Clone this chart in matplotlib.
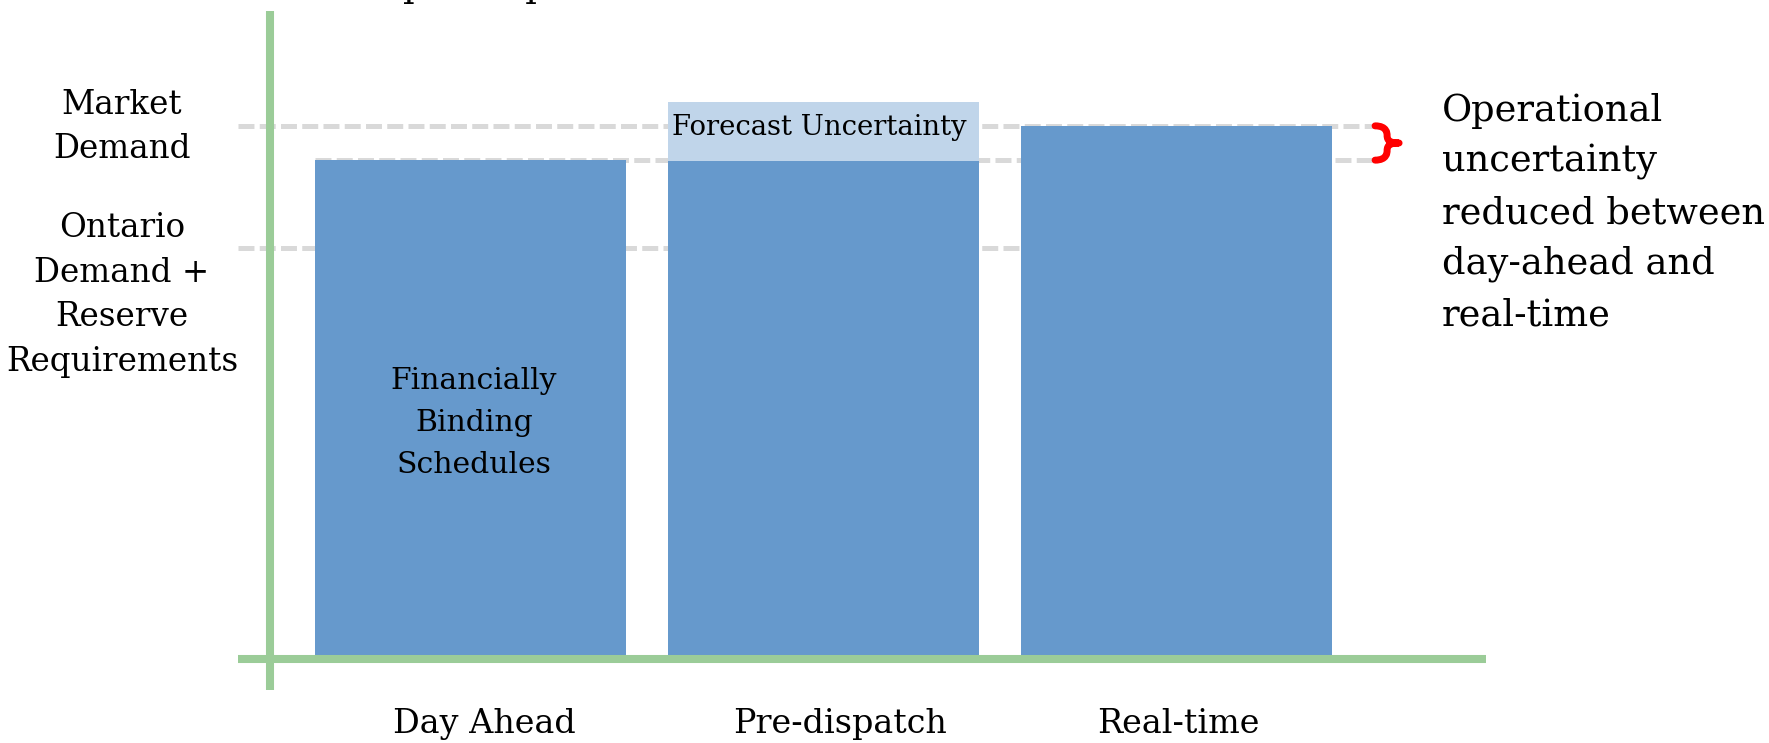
import matplotlib
matplotlib.use("Agg")
import matplotlib.pyplot as plt
import numpy as np
from matplotlib.path import Path
from matplotlib.patches import PathPatch

# ---- data (arbitrary demand units, axis spans 0-100) ----
stages = ["Day Ahead", "Pre-dispatch", "Real-time"]
scheduled = [75.7, 75.6, 80.9]
forecast_uncertainty = [0.0, 8.9, 0.0]
market_demand = 80.9
ontario_demand_reserve = 62.4
day_ahead_level = 75.7

level_labels = ["Market\nDemand", "Ontario\nDemand +\nReserve\nRequirements"]
bar_note = "Financially\nBinding\nSchedules"
uncertainty_note = "Forecast Uncertainty"
side_note = "Operational\nuncertainty\nreduced between\nday-ahead and\nreal-time"

# ---- style ----
BAR = "#6699CC"
BAR_LIGHT = "#C0D5EA"
AXIS_GREEN = "#9BCC98"
DASH_GREY = "#D9D9D9"
BRACE_RED = "#FF0000"
FONT = "DejaVu Serif"

plt.rcParams["font.family"] = FONT
plt.rcParams["lines.scale_dashes"] = False

W, H = 1769, 743
fig = plt.figure(figsize=(W / 100, H / 100), dpi=100)
ax = fig.add_axes([238 / W, (H - 659) / H, (1486 - 238) / W, 659 / H])

x = np.arange(len(stages))
width = 0.88
ax.set_xlim(-0.658, 2.875)
ax.set_ylim(0, 100)
ax.axis("off")


def px(xp, yp):
    """Pixel position (from top-left) to figure fraction."""
    return xp / W, 1 - yp / H


# reference levels (dashed)
dash = dict(color=DASH_GREY, lw=3.6, dashes=(11.5, 3.8), dash_capstyle="butt", zorder=1)
right_end = x[-1] + width / 2 + 0.115
ax.plot([-0.658, right_end], [market_demand] * 2, **dash)
ax.plot([x[0] - width / 2, right_end], [day_ahead_level] * 2, **dash)
ax.plot([-0.658, x[-1]], [ontario_demand_reserve] * 2, **dash)

# bars
ax.bar(x, scheduled, width=width, color=BAR, zorder=2)
unc = np.array(forecast_uncertainty)
mask = unc > 0
ax.bar(x[mask], unc[mask], bottom=np.array(scheduled)[mask], width=width,
       color=BAR_LIGHT, zorder=3)

# axes drawn as thick green lines crossing each other
ax.plot([-0.658, 2.875], [0, 0], color=AXIS_GREEN, lw=5.8, solid_capstyle="butt",
        zorder=5, clip_on=False)
ax.plot([-0.5676, -0.5676], [-4.7, 98.3], color=AXIS_GREEN, lw=5.8,
        solid_capstyle="butt", zorder=5, clip_on=False)

# curly brace between day-ahead and market demand levels
x0 = right_end + 0.006
d = 0.034
yt, yb = market_demand, day_ahead_level
ym = (yt + yb) / 2
hh = (yt - yb) / 2
verts = [
    (x0, yt),
    (x0 + d, yt), (x0 + d, yt - 0.45 * hh), (x0 + d, ym + 0.45 * hh),
    (x0 + d, ym + 0.1 * hh), (x0 + d * 1.3, ym), (x0 + 2 * d, ym),
    (x0 + d * 1.3, ym), (x0 + d, ym - 0.1 * hh), (x0 + d, ym - 0.45 * hh),
    (x0 + d, yb + 0.45 * hh), (x0 + d, yb), (x0, yb),
]
codes = [Path.MOVETO] + [Path.CURVE4] * 12
ax.add_patch(PathPatch(Path(verts, codes), facecolor="none", edgecolor=BRACE_RED,
                       lw=5.0, capstyle="round", joinstyle="round", zorder=6,
                       clip_on=False))

# category labels below the axis
label_shift = [0.04, 0.045, 0.005]
for xi, s, name in zip(x, label_shift, stages):
    ax.text(xi + s, -9.8, name, ha="center", va="center", fontsize=24,
            family=FONT, clip_on=False)

# text inside bars
ax.text(x[0] + 0.01, 35.8, bar_note, ha="center", va="center", fontsize=21.5,
        linespacing=1.62, family=FONT)
ax.text(x[1] - 0.012, scheduled[1] + unc[1] / 2 + 0.6, uncertainty_note,
        ha="center", va="center", fontsize=19.8, family=FONT, zorder=4)

# level labels on the left
fig.text(*px(122, 127), level_labels[0], ha="center", va="center", fontsize=23.5,
         linespacing=1.5)
fig.text(*px(122, 295), level_labels[1], ha="center", va="center", fontsize=23.5,
         linespacing=1.5)

# side annotation
fig.text(*px(1442, 213), side_note, ha="left", va="center", fontsize=26.5,
         linespacing=1.53)

# heading above the plot area (only its lowest strokes fall inside the canvas)
fig.text(*px(403, -4), "participants", ha="left", va="baseline", fontsize=26.5)

fig.savefig("out.png", dpi=100)
